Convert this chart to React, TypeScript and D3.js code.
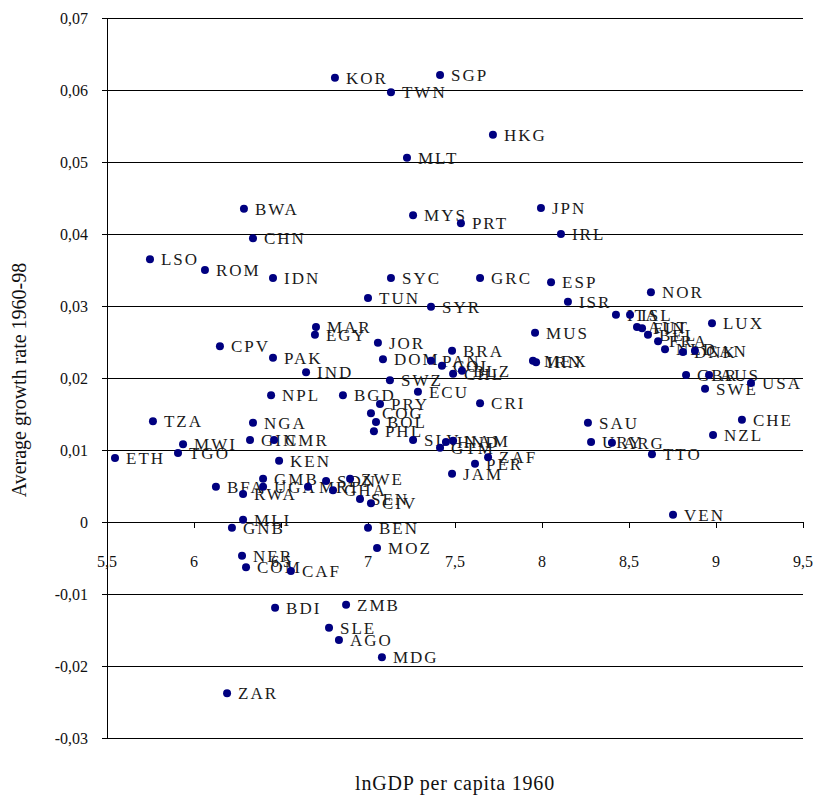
import * as d3 from "d3";
import React from "react";

// country codes, ln GDP per capita 1960 and average growth 1960-98
const codes = [
  "KOR", "SGP", "TWN", "HKG", "MLT", "MYS", "PRT", "JPN", "IRL", "BWA",
  "CHN", "LSO", "ROM", "IDN", "SYC", "GRC", "ESP", "TUN", "SYR", "NOR",
  "ISR", "MAR", "EGY", "JOR", "MUS", "CPV", "PAK", "DOM", "PAN", "COL",
  "BRA", "CHL", "BLZ", "MEX", "IRN", "IND", "SWZ", "ECU", "BGD", "NPL",
  "PRY", "COG", "BOL", "PHL", "SLV", "HND", "NAM", "GTM", "CRI", "ZAF",
  "PER", "JAM", "TZA", "NGA", "GIN", "CMR", "MWI", "TGO", "ETH", "KEN",
  "BFA", "GMB", "UGA", "RWA", "MRT", "SDN", "GHA", "ZWE", "SEN", "CIV",
  "MLI", "GNB", "BEN", "NER", "COM", "CAF", "MOZ", "BDI", "ZMB", "SLE",
  "AGO", "MDG", "ZAR", "VEN", "TTO", "SAU", "URY", "ARG", "ITA", "ISL",
  "AUT", "FIN", "BEL", "FRA", "NLD", "DNK", "CAN", "LUX", "GBR", "AUS",
  "USA", "SWE", "CHE", "NZL",
];

const lnGdp1960 = [
  6.81, 7.414, 7.132, 7.718, 7.224, 7.259, 7.534, 7.994, 8.109, 6.287,
  6.339, 5.747, 6.063, 6.454, 7.132, 7.644, 8.052, 7.0, 7.362, 8.626,
  8.149, 6.701, 6.695, 7.057, 7.96, 6.149, 6.454, 7.086, 7.362, 7.425,
  7.483, 7.489, 7.54, 7.948, 7.966, 6.644, 7.126, 7.287, 6.856, 6.443,
  7.069, 7.017, 7.046, 7.034, 7.259, 7.448, 7.489, 7.414, 7.644, 7.69,
  7.615, 7.483, 5.764, 6.339, 6.322, 6.46, 5.937, 5.908, 5.546, 6.489,
  6.126, 6.397, 6.397, 6.282, 6.655, 6.759, 6.799, 6.897, 6.954, 7.017,
  6.282, 6.218, 7.0, 6.276, 6.299, 6.557, 7.052, 6.466, 6.874, 6.776,
  6.833, 7.08, 6.19, 8.753, 8.632, 8.264, 8.282, 8.402, 8.425, 8.506,
  8.546, 8.575, 8.609, 8.667, 8.707, 8.81, 8.879, 8.977, 8.828, 8.96,
  9.201, 8.937, 9.149, 8.983,
];

const growth = [
  0.0617, 0.0621, 0.0597, 0.0538, 0.0506, 0.0426, 0.0415, 0.0436, 0.04, 0.0435,
  0.0394, 0.0365, 0.035, 0.0339, 0.0339, 0.0339, 0.0333, 0.0311, 0.0299, 0.0319,
  0.0306, 0.0271, 0.026, 0.0249, 0.0263, 0.0244, 0.0228, 0.0226, 0.0224, 0.0217,
  0.0238, 0.0206, 0.021, 0.0224, 0.0222, 0.0208, 0.0197, 0.0181, 0.0176, 0.0176,
  0.0164, 0.0151, 0.0139, 0.0126, 0.0114, 0.0111, 0.0113, 0.0103, 0.0165, 0.009,
  0.0081, 0.0067, 0.014, 0.0138, 0.0114, 0.0114, 0.0108, 0.0096, 0.0089, 0.0085,
  0.0049, 0.006, 0.0049, 0.0039, 0.0049, 0.0057, 0.0044, 0.006, 0.0032, 0.0026,
  0.0003, -0.0008, -0.0008, -0.0047, -0.0063, -0.0068, -0.0036, -0.0119, -0.0115, -0.0147,
  -0.0164, -0.0188, -0.0238, 0.001, 0.0094, 0.0138, 0.0111, 0.011, 0.0288, 0.0288,
  0.0271, 0.0269, 0.026, 0.0251, 0.024, 0.0236, 0.0238, 0.0276, 0.0204, 0.0204,
  0.0193, 0.0185, 0.0142, 0.0121,
];

const xTicks = [5.5, 6, 6.5, 7, 7.5, 8, 8.5, 9, 9.5];
const yTicks = [-0.03, -0.02, -0.01, 0, 0.01, 0.02, 0.03, 0.04, 0.05, 0.06, 0.07];

const W = 818;
const H = 798;
const font = "Liberation Serif, Times New Roman, serif";

const x = d3.scaleLinear().domain([5.5, 9.5]).range([107, 803]);
const y = d3.scaleLinear().domain([-0.03, 0.07]).range([738, 18]);

const yLabel = (v: number) => (Math.abs(v) < 1e-9 ? "0" : v.toFixed(2).replace(".", ","));
const xLabel = (v: number) => String(v).replace(".", ",");

export default function App() {
  const points = codes.map((c, i) => ({ code: c, gx: lnGdp1960[i], gy: growth[i] }));
  const x0 = x.range()[0];
  const x1 = x.range()[1];

  return (
    <svg
      width={W}
      height={H}
      style={{ position: "absolute", left: 0, top: 0, background: "#fff", fontFamily: font }}
    >
      {/* horizontal gridlines */}
      {yTicks.map((t) => (
        <line
          key={"g" + t}
          x1={x0}
          x2={x1}
          y1={Math.round(y(t)) + 0.5}
          y2={Math.round(y(t)) + 0.5}
          stroke="#000"
          strokeWidth={1}
        />
      ))}
      {/* y axis */}
      <line x1={x0 + 0.5} x2={x0 + 0.5} y1={y(0.07)} y2={y(-0.03)} stroke="#000" />
      {yTicks.map((t) => (
        <g key={"yt" + t}>
          <line x1={x0 - 5} x2={x0} y1={Math.round(y(t)) + 0.5} y2={Math.round(y(t)) + 0.5} stroke="#000" />
          <text x={88} y={y(t)} dy="0.35em" textAnchor="end" fontSize={16} fill="#111">
            {yLabel(t)}
          </text>
        </g>
      ))}
      {/* x axis ticks at y = 0 */}
      {xTicks.map((t) => (
        <g key={"xt" + t}>
          <line
            x1={Math.round(x(t)) + 0.5}
            x2={Math.round(x(t)) + 0.5}
            y1={y(0)}
            y2={y(0) + 6}
            stroke="#000"
          />
          <text x={x(t)} y={567} textAnchor="middle" fontSize={16} fill="#111">
            {xLabel(t)}
          </text>
        </g>
      ))}
      {/* labels */}
      {points.map((p) => (
        <text
          key={"l" + p.code}
          x={x(p.gx) + 11}
          y={y(p.gy)}
          dy="0.36em"
          fontSize={17}
          letterSpacing={2}
          fill="#1a1a1a"
        >
          {p.code}
        </text>
      ))}
      {/* markers */}
      {points.map((p) => (
        <circle key={"c" + p.code} cx={x(p.gx)} cy={y(p.gy)} r={4} fill="#000080" />
      ))}
      {/* axis titles */}
      <text
        transform={`translate(26,${(y(0.07) + y(-0.03)) / 2 + 2}) rotate(-90)`}
        textAnchor="middle"
        fontSize={20}
        fill="#111"
      >
        Average growth rate 1960-98
      </text>
      <text x={455} y={790} textAnchor="middle" fontSize={20} letterSpacing={0.8} fill="#111">
        lnGDP per capita 1960
      </text>
    </svg>
  );
}
